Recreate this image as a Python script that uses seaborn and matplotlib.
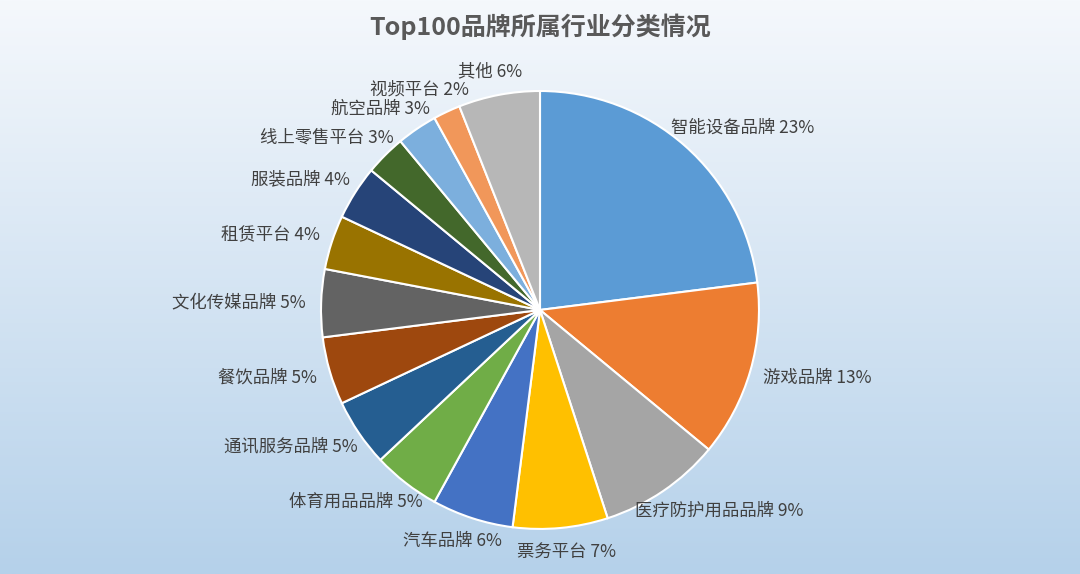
import numpy as np
import matplotlib
matplotlib.use('Agg')
import matplotlib.pyplot as plt
import seaborn as sns

sns.set_theme(style='white')
plt.rcParams['font.family'] = ['Noto Sans CJK SC', 'DejaVu Sans']

# --- 数据 ---
categories = ['智能设备品牌', '游戏品牌', '医疗防护用品品牌', '票务平台', '汽车品牌',
              '体育用品品牌', '通讯服务品牌', '餐饮品牌', '文化传媒品牌', '租赁平台',
              '服装品牌', '线上零售平台', '航空品牌', '视频平台', '其他']
shares = [23, 13, 9, 7, 6, 5, 5, 5, 5, 4, 4, 3, 3, 2, 6]
colors = ['#5B9BD5', '#ED7D31', '#A5A5A5', '#FFC000', '#4472C4',
          '#70AD47', '#255E91', '#9E480E', '#636363', '#997300',
          '#264478', '#43682B', '#7CAFDD', '#F1975A', '#B7B7B7']
title = 'Top100品牌所属行业分类情况'

fig = plt.figure(figsize=(10.8, 5.74), dpi=100)

# 渐变背景
bg = fig.add_axes([0, 0, 1, 1], zorder=0)
grad = np.linspace(0, 1, 256).reshape(-1, 1)
cmap = matplotlib.colors.LinearSegmentedColormap.from_list('bg', ['#F5F8FC', '#B5D1EA'])
bg.imshow(grad, aspect='auto', cmap=cmap, extent=[0, 1, 0, 1], origin='upper')
bg.axis('off')

ax = fig.add_axes([0.5 - 0.2028, 0.46 - 0.3815, 0.4056, 0.763], zorder=1)
labels = [f'{c} {s}%' for c, s in zip(categories, shares)]
wedges, texts = ax.pie(shares, labels=labels, colors=colors, startangle=90,
                       counterclock=False, labeldistance=1.1,
                       wedgeprops=dict(edgecolor='white', linewidth=1.5),
                       textprops=dict(fontsize=12.5, color='#404040'))
ax.set_xlim(-1, 1)
ax.set_ylim(-1, 1)
ax.set_aspect('equal')
ax.axis('off')

# Excel 风格的外侧标签：标签框的边贴在半径 d 处
fig.canvas.draw()
renderer = fig.canvas.get_renderer()
px_per_unit = ax.get_window_extent().width / 2.0
d = 1.07
for w, t in zip(wedges, texts):
    ang = np.deg2rad((w.theta1 + w.theta2) / 2)
    ux, uy = np.cos(ang), np.sin(ang)
    bb = t.get_window_extent(renderer)
    hw = bb.width / 2 / px_per_unit
    hh = bb.height / 2 / px_per_unit
    t.set_ha('center')
    t.set_va('center')
    t.set_position((d * ux + hw * ux, d * uy + hh * uy))

fig.text(0.5, 0.953, title, ha='center', va='center', fontsize=18,
         fontweight='bold', color='#595959')

fig.savefig('out.png', dpi=100)
